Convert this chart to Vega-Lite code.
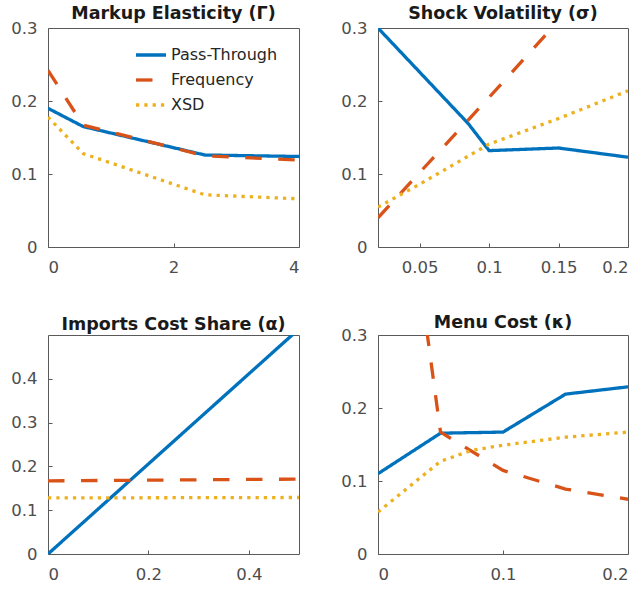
{
  "$schema": "https://vega.github.io/schema/vega-lite/v6.json",
  "padding": {"left": 10, "top": 4, "right": 2, "bottom": 2},
  "background": "white",
  "config": {
    "font": "DejaVu Sans",
    "view": {"stroke": "#5a5a5a", "strokeWidth": 1},
    "axis": {
      "grid": false,
      "domain": false,
      "ticks": true,
      "tickSize": -4,
      "tickColor": "#5a5a5a",
      "labelFontSize": 16.5,
      "labelColor": "#4d4d4d",
      "labelFont": "DejaVu Sans",
      "title": null,
      "format": "~g"
    },
    "axisX": {"labelPadding": 16},
    "axisY": {"labelPadding": 15},
    "title": {"fontSize": 17.5, "fontWeight": "bold", "color": "#1a1a1a", "anchor": "middle", "baseline": "alphabetic", "font": "DejaVu Sans"},
    "legend": {
      "orient": "none",
      "padding": 0,
      "symbolType": "stroke",
      "symbolSize": 900,
      "symbolStrokeWidth": 3.3,
      "labelFontSize": 16,
      "labelColor": "#262626",
      "labelFont": "DejaVu Sans",
      "labelOffset": 3,
      "rowPadding": -5,
      "title": null
    }
  },
  "columns": 2,
  "spacing": {"row": 88, "column": 79},
  "bounds": "flush",
  "resolve": {"scale": {"color": "independent", "strokeDash": "independent"}, "legend": {"color": "independent", "strokeDash": "independent"}},
  "concat": [
    {
      "title": {"text": "Markup Elasticity (Γ)", "offset": -2},
      "width": 251,
      "height": 219,
      "data": {"values": [
        {"series": "Pass-Through", "x": 0, "y": 0.19},
        {"series": "Pass-Through", "x": 0.56, "y": 0.165},
        {"series": "Pass-Through", "x": 2.5, "y": 0.126},
        {"series": "Pass-Through", "x": 4, "y": 0.124},
        {"series": "Frequency", "x": 0, "y": 0.242},
        {"series": "Frequency", "x": 0.56, "y": 0.167},
        {"series": "Frequency", "x": 2.5, "y": 0.125},
        {"series": "Frequency", "x": 4, "y": 0.119},
        {"series": "XSD", "x": 0, "y": 0.178},
        {"series": "XSD", "x": 0.56, "y": 0.128},
        {"series": "XSD", "x": 2.5, "y": 0.0715},
        {"series": "XSD", "x": 4, "y": 0.066}
      ]},
      "mark": {"type": "line", "strokeWidth": 3.3, "clip": true, "strokeCap": "butt"},
      "encoding": {
        "x": {"field": "x", "type": "quantitative", "scale": {"domain": [0, 4], "nice": false, "zero": false}, "axis": {"values": [0, 2, 4]}},
        "y": {"field": "y", "type": "quantitative", "scale": {"domain": [0, 0.3], "nice": false, "zero": false}, "axis": {"values": [0, 0.1, 0.2, 0.3]}},
        "color": {"field": "series", "type": "nominal", "scale": {"domain": ["Pass-Through", "Frequency", "XSD"], "range": ["#0072BD", "#D95319", "#EDB120"]}, "legend": {"legendX": 86, "legendY": 10}},
        "strokeDash": {"field": "series", "type": "nominal", "scale": {"domain": ["Pass-Through", "Frequency", "XSD"], "range": [[1, 0], [16.5, 16.5], [3.3, 5]]}, "legend": {"legendX": 86, "legendY": 10}}
      }
    },
    {
      "title": {"text": "Shock Volatility (σ)", "offset": -2},
      "width": 250,
      "height": 219,
      "data": {"values": [
        {"series": "Pass-Through", "x": 0.02, "y": 0.3},
        {"series": "Pass-Through", "x": 0.085, "y": 0.169},
        {"series": "Pass-Through", "x": 0.1, "y": 0.132},
        {"series": "Pass-Through", "x": 0.15, "y": 0.1356},
        {"series": "Pass-Through", "x": 0.2, "y": 0.123},
        {"series": "Frequency", "x": 0.02, "y": 0.04},
        {"series": "Frequency", "x": 0.05, "y": 0.102},
        {"series": "Frequency", "x": 0.1, "y": 0.205},
        {"series": "Frequency", "x": 0.15, "y": 0.31},
        {"series": "Frequency", "x": 0.2, "y": 0.42},
        {"series": "XSD", "x": 0.02, "y": 0.0546},
        {"series": "XSD", "x": 0.05, "y": 0.086},
        {"series": "XSD", "x": 0.1, "y": 0.141},
        {"series": "XSD", "x": 0.15, "y": 0.176},
        {"series": "XSD", "x": 0.2, "y": 0.214}
      ]},
      "mark": {"type": "line", "strokeWidth": 3.3, "clip": true, "strokeCap": "butt"},
      "encoding": {
        "x": {"field": "x", "type": "quantitative", "scale": {"domain": [0.02, 0.2], "nice": false, "zero": false}, "axis": {"values": [0.05, 0.1, 0.15, 0.2]}},
        "y": {"field": "y", "type": "quantitative", "scale": {"domain": [0, 0.3], "nice": false, "zero": false}, "axis": {"values": [0, 0.1, 0.2, 0.3]}},
        "color": {"field": "series", "type": "nominal", "scale": {"domain": ["Pass-Through", "Frequency", "XSD"], "range": ["#0072BD", "#D95319", "#EDB120"]}, "legend": null},
        "strokeDash": {"field": "series", "type": "nominal", "scale": {"domain": ["Pass-Through", "Frequency", "XSD"], "range": [[1, 0], [16.5, 16.5], [3.3, 5]]}, "legend": null}
      }
    },
    {
      "title": {"text": "Imports Cost Share (α)", "offset": 2},
      "width": 251,
      "height": 219,
      "data": {"values": [
        {"series": "Pass-Through", "x": 0, "y": 0},
        {"series": "Pass-Through", "x": 0.5, "y": 0.514},
        {"series": "Frequency", "x": 0, "y": 0.167},
        {"series": "Frequency", "x": 0.5, "y": 0.171},
        {"series": "XSD", "x": 0, "y": 0.128},
        {"series": "XSD", "x": 0.5, "y": 0.129}
      ]},
      "mark": {"type": "line", "strokeWidth": 3.3, "clip": true, "strokeCap": "butt"},
      "encoding": {
        "x": {"field": "x", "type": "quantitative", "scale": {"domain": [0, 0.5], "nice": false, "zero": false}, "axis": {"values": [0, 0.2, 0.4]}},
        "y": {"field": "y", "type": "quantitative", "scale": {"domain": [0, 0.5], "nice": false, "zero": false}, "axis": {"values": [0, 0.1, 0.2, 0.3, 0.4]}},
        "color": {"field": "series", "type": "nominal", "scale": {"domain": ["Pass-Through", "Frequency", "XSD"], "range": ["#0072BD", "#D95319", "#EDB120"]}, "legend": null},
        "strokeDash": {"field": "series", "type": "nominal", "scale": {"domain": ["Pass-Through", "Frequency", "XSD"], "range": [[1, 0], [16.5, 16.5], [3.3, 5]]}, "legend": null}
      }
    },
    {
      "title": {"text": "Menu Cost (κ)", "offset": -4},
      "width": 250,
      "height": 219,
      "data": {"values": [
        {"series": "Pass-Through", "x": 0, "y": 0.11},
        {"series": "Pass-Through", "x": 0.05, "y": 0.1655},
        {"series": "Pass-Through", "x": 0.1, "y": 0.167},
        {"series": "Pass-Through", "x": 0.15, "y": 0.219},
        {"series": "Pass-Through", "x": 0.2, "y": 0.229},
        {"series": "Frequency", "x": 0, "y": 0.8},
        {"series": "Frequency", "x": 0.05, "y": 0.167},
        {"series": "Frequency", "x": 0.1, "y": 0.1145},
        {"series": "Frequency", "x": 0.15, "y": 0.089},
        {"series": "Frequency", "x": 0.2, "y": 0.075},
        {"series": "XSD", "x": 0, "y": 0.0575},
        {"series": "XSD", "x": 0.05, "y": 0.127},
        {"series": "XSD", "x": 0.075, "y": 0.142},
        {"series": "XSD", "x": 0.1, "y": 0.149},
        {"series": "XSD", "x": 0.15, "y": 0.16},
        {"series": "XSD", "x": 0.2, "y": 0.167}
      ]},
      "mark": {"type": "line", "strokeWidth": 3.3, "clip": true, "strokeCap": "butt"},
      "encoding": {
        "x": {"field": "x", "type": "quantitative", "scale": {"domain": [0, 0.2], "nice": false, "zero": false}, "axis": {"values": [0, 0.1, 0.2]}},
        "y": {"field": "y", "type": "quantitative", "scale": {"domain": [0, 0.3], "nice": false, "zero": false}, "axis": {"values": [0, 0.1, 0.2, 0.3]}},
        "color": {"field": "series", "type": "nominal", "scale": {"domain": ["Pass-Through", "Frequency", "XSD"], "range": ["#0072BD", "#D95319", "#EDB120"]}, "legend": null},
        "strokeDash": {"field": "series", "type": "nominal", "scale": {"domain": ["Pass-Through", "Frequency", "XSD"], "range": [[1, 0], [16.5, 16.5], [3.3, 5]]}, "legend": null}
      }
    }
  ]
}
